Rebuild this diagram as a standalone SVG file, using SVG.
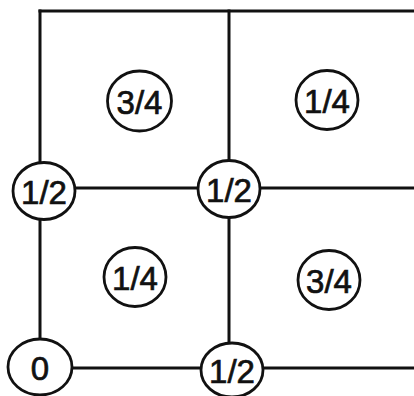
<svg xmlns="http://www.w3.org/2000/svg" width="414" height="396" viewBox="0 0 414 396">
  <style>
    .edge { stroke: #111; stroke-width: 3; fill: none; stroke-linecap: square; }
    .ring { fill: #fff; stroke: #111; stroke-width: 2.8; }
    .lbl { font-family: "Liberation Sans", Arial, sans-serif; font-size: 33px; fill: #111; stroke: #111; stroke-width: 0.7; text-anchor: middle; dominant-baseline: central; }
  </style>
  <rect width="414" height="396" fill="#fff"/>
  <g id="connectors">
    <line class="edge" x1="40" y1="11" x2="414" y2="11"/>
    <line class="edge" x1="40" y1="11" x2="40" y2="368"/>
    <line class="edge" x1="229" y1="11" x2="229" y2="368"/>
    <line class="edge" x1="42" y1="188" x2="414" y2="188"/>
    <line class="edge" x1="40" y1="368" x2="414" y2="368"/>
  </g>
  <g id="node-left-mid">
    <ellipse class="ring" cx="44" cy="191" rx="31" ry="28.5"/>
    <text class="lbl" x="44" y="192">1/2</text>
  </g>
  <g id="node-center">
    <ellipse class="ring" cx="229" cy="189" rx="31" ry="28.5"/>
    <text class="lbl" x="229" y="190">1/2</text>
  </g>
  <g id="node-origin">
    <ellipse class="ring" cx="40" cy="367" rx="32" ry="28"/>
    <text class="lbl" x="40" y="368">0</text>
  </g>
  <g id="node-bottom-mid">
    <ellipse class="ring" cx="232" cy="370" rx="31" ry="27"/>
    <text class="lbl" x="232" y="371">1/2</text>
  </g>
  <g id="cell-top-left">
    <ellipse class="ring" cx="139.5" cy="101" rx="32" ry="30"/>
    <text class="lbl" x="139.5" y="102">3/4</text>
  </g>
  <g id="cell-top-right">
    <ellipse class="ring" cx="327" cy="100" rx="31" ry="29.5"/>
    <text class="lbl" x="327" y="101">1/4</text>
  </g>
  <g id="cell-bottom-left">
    <ellipse class="ring" cx="135" cy="277" rx="31" ry="29.5"/>
    <text class="lbl" x="135" y="278">1/4</text>
  </g>
  <g id="cell-bottom-right">
    <ellipse class="ring" cx="329" cy="280" rx="31" ry="29.5"/>
    <text class="lbl" x="329" y="281">3/4</text>
  </g>
</svg>
